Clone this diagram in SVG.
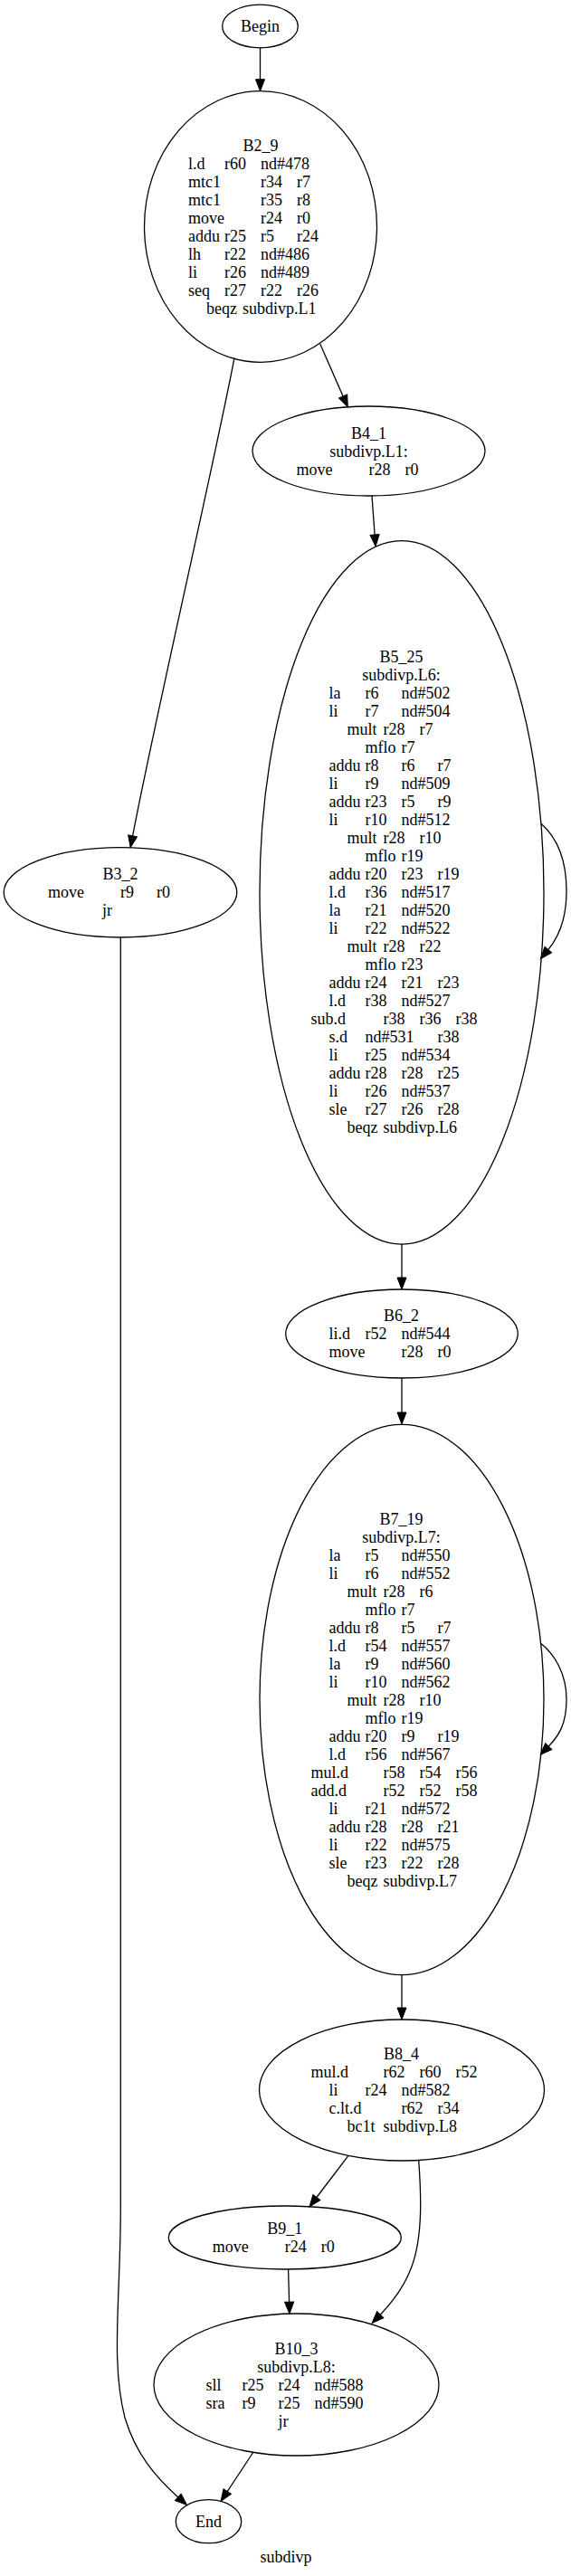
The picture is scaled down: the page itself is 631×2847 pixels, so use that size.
<svg xmlns="http://www.w3.org/2000/svg" width="631" height="2847" viewBox="0 0 631 2847">
<style>
.node ellipse{fill:none;stroke:#000;stroke-width:1.3}
text{font-family:"Liberation Serif","Times New Roman",serif;font-size:18px;fill:#000}
.m{text-anchor:middle}
.edges path{fill:none;stroke:#000;stroke-width:1.3;marker-end:url(#ah)}
</style>
<defs>
<marker id="ah" markerUnits="userSpaceOnUse" markerWidth="13" markerHeight="10" refX="0" refY="5" orient="auto" viewBox="0 0 13 10" style="overflow:visible">
<path d="M0,0 L13,5 L0,10 z" fill="#000" stroke="#000" stroke-width="1"/>
</marker>
</defs>
<rect width="631" height="2847" fill="#fff"/>
<g class="edges" id="edges">
<path d="M287.5,52.8 L287.5,87.7"/>
<path d="M353.7,380 L379.1,437.9"/>
<path d="M259,395.7 C235,520 170,800 146.6,923.9"/>
<path d="M411,548 L414.1,591"/>
<path d="M597.7,910 C615,925 626,950 626,985 C626,1015 618,1035 605.8,1049.6"/>
<path d="M444,1375.1 L444,1412"/>
<path d="M444,1523 L444,1561"/>
<path d="M597,1815.7 C613,1828 626,1850 626,1878 C626,1905 618,1918 606.3,1930"/>
<path d="M444,2182.7 L444,2219"/>
<path d="M385,2382.3 L349.9,2428.5"/>
<path d="M462.7,2387.5 C465,2420 468,2470 455,2505 C447,2527 433,2545 420.2,2558.2"/>
<path d="M318.6,2508 L319.6,2544.2"/>
<path d="M280,2710 L251.2,2753.6"/>
<path d="M133.3,1036 L133.3,2440 C133.3,2540 122,2610 138,2672 C150,2712 172,2738 196.8,2759.9"/>
</g>
<g class="node" id="Begin">
<ellipse cx="287.5" cy="29" rx="41.8" ry="23.8"/>
<text class="m" x="287.5" y="34.5">Begin</text>
</g>
<g class="node" id="B2_9">
<ellipse cx="288" cy="250.5" rx="128.5" ry="149.8"/>
<text class="m" x="288" y="166.5">B2_9</text>
<text y="186.5"><tspan x="208">l.d</tspan><tspan x="248">r60</tspan><tspan x="288">nd#478</tspan></text>
<text y="206.5"><tspan x="208">mtc1</tspan><tspan x="288">r34</tspan><tspan x="328">r7</tspan></text>
<text y="226.5"><tspan x="208">mtc1</tspan><tspan x="288">r35</tspan><tspan x="328">r8</tspan></text>
<text y="246.5"><tspan x="208">move</tspan><tspan x="288">r24</tspan><tspan x="328">r0</tspan></text>
<text y="266.5"><tspan x="208">addu</tspan><tspan x="248">r25</tspan><tspan x="288">r5</tspan><tspan x="328">r24</tspan></text>
<text y="286.5"><tspan x="208">lh</tspan><tspan x="248">r22</tspan><tspan x="288">nd#486</tspan></text>
<text y="306.5"><tspan x="208">li</tspan><tspan x="248">r26</tspan><tspan x="288">nd#489</tspan></text>
<text y="326.5"><tspan x="208">seq</tspan><tspan x="248">r27</tspan><tspan x="288">r22</tspan><tspan x="328">r26</tspan></text>
<text y="346.5"><tspan x="228">beqz</tspan><tspan x="268">subdivp.L1</tspan></text>
</g>
<g class="node" id="B4_1">
<ellipse cx="407.5" cy="498.5" rx="128.5" ry="49.5"/>
<text class="m" x="407.5" y="484.5">B4_1</text>
<text class="m" x="407.5" y="504.5">subdivp.L1:</text>
<text y="524.5"><tspan x="327.5">move</tspan><tspan x="407.5">r28</tspan><tspan x="447.5">r0</tspan></text>
</g>
<g class="node" id="B3_2">
<ellipse cx="133" cy="986.3" rx="128.8" ry="49.7"/>
<text class="m" x="133" y="972.3">B3_2</text>
<text y="992.3"><tspan x="53">move</tspan><tspan x="133">r9</tspan><tspan x="173">r0</tspan></text>
<text y="1012.3"><tspan x="113">jr</tspan></text>
</g>
<g class="node" id="B5_25">
<ellipse cx="444" cy="986.4" rx="157" ry="388.7"/>
<text class="m" x="443.5" y="732.4">B5_25</text>
<text class="m" x="443.5" y="752.4">subdivp.L6:</text>
<text y="772.4"><tspan x="363.5">la</tspan><tspan x="403.5">r6</tspan><tspan x="443.5">nd#502</tspan></text>
<text y="792.4"><tspan x="363.5">li</tspan><tspan x="403.5">r7</tspan><tspan x="443.5">nd#504</tspan></text>
<text y="812.4"><tspan x="383.5">mult</tspan><tspan x="423.5">r28</tspan><tspan x="463.5">r7</tspan></text>
<text y="832.4"><tspan x="403.5">mflo</tspan><tspan x="443.5">r7</tspan></text>
<text y="852.4"><tspan x="363.5">addu</tspan><tspan x="403.5">r8</tspan><tspan x="443.5">r6</tspan><tspan x="483.5">r7</tspan></text>
<text y="872.4"><tspan x="363.5">li</tspan><tspan x="403.5">r9</tspan><tspan x="443.5">nd#509</tspan></text>
<text y="892.4"><tspan x="363.5">addu</tspan><tspan x="403.5">r23</tspan><tspan x="443.5">r5</tspan><tspan x="483.5">r9</tspan></text>
<text y="912.4"><tspan x="363.5">li</tspan><tspan x="403.5">r10</tspan><tspan x="443.5">nd#512</tspan></text>
<text y="932.4"><tspan x="383.5">mult</tspan><tspan x="423.5">r28</tspan><tspan x="463.5">r10</tspan></text>
<text y="952.4"><tspan x="403.5">mflo</tspan><tspan x="443.5">r19</tspan></text>
<text y="972.4"><tspan x="363.5">addu</tspan><tspan x="403.5">r20</tspan><tspan x="443.5">r23</tspan><tspan x="483.5">r19</tspan></text>
<text y="992.4"><tspan x="363.5">l.d</tspan><tspan x="403.5">r36</tspan><tspan x="443.5">nd#517</tspan></text>
<text y="1012.4"><tspan x="363.5">la</tspan><tspan x="403.5">r21</tspan><tspan x="443.5">nd#520</tspan></text>
<text y="1032.4"><tspan x="363.5">li</tspan><tspan x="403.5">r22</tspan><tspan x="443.5">nd#522</tspan></text>
<text y="1052.4"><tspan x="383.5">mult</tspan><tspan x="423.5">r28</tspan><tspan x="463.5">r22</tspan></text>
<text y="1072.4"><tspan x="403.5">mflo</tspan><tspan x="443.5">r23</tspan></text>
<text y="1092.4"><tspan x="363.5">addu</tspan><tspan x="403.5">r24</tspan><tspan x="443.5">r21</tspan><tspan x="483.5">r23</tspan></text>
<text y="1112.4"><tspan x="363.5">l.d</tspan><tspan x="403.5">r38</tspan><tspan x="443.5">nd#527</tspan></text>
<text y="1132.4"><tspan x="343.5">sub.d</tspan><tspan x="423.5">r38</tspan><tspan x="463.5">r36</tspan><tspan x="503.5">r38</tspan></text>
<text y="1152.4"><tspan x="363.5">s.d</tspan><tspan x="403.5">nd#531</tspan><tspan x="483.5">r38</tspan></text>
<text y="1172.4"><tspan x="363.5">li</tspan><tspan x="403.5">r25</tspan><tspan x="443.5">nd#534</tspan></text>
<text y="1192.4"><tspan x="363.5">addu</tspan><tspan x="403.5">r28</tspan><tspan x="443.5">r28</tspan><tspan x="483.5">r25</tspan></text>
<text y="1212.4"><tspan x="363.5">li</tspan><tspan x="403.5">r26</tspan><tspan x="443.5">nd#537</tspan></text>
<text y="1232.4"><tspan x="363.5">sle</tspan><tspan x="403.5">r27</tspan><tspan x="443.5">r26</tspan><tspan x="483.5">r28</tspan></text>
<text y="1252.4"><tspan x="383.5">beqz</tspan><tspan x="423.5">subdivp.L6</tspan></text>
</g>
<g class="node" id="B6_2">
<ellipse cx="444" cy="1474" rx="128.3" ry="49"/>
<text class="m" x="443.5" y="1460">B6_2</text>
<text y="1480"><tspan x="363.5">li.d</tspan><tspan x="403.5">r52</tspan><tspan x="443.5">nd#544</tspan></text>
<text y="1500"><tspan x="363.5">move</tspan><tspan x="443.5">r28</tspan><tspan x="483.5">r0</tspan></text>
</g>
<g class="node" id="B7_19">
<ellipse cx="444" cy="1878.5" rx="157" ry="304.2"/>
<text class="m" x="443.5" y="1684.5">B7_19</text>
<text class="m" x="443.5" y="1704.5">subdivp.L7:</text>
<text y="1724.5"><tspan x="363.5">la</tspan><tspan x="403.5">r5</tspan><tspan x="443.5">nd#550</tspan></text>
<text y="1744.5"><tspan x="363.5">li</tspan><tspan x="403.5">r6</tspan><tspan x="443.5">nd#552</tspan></text>
<text y="1764.5"><tspan x="383.5">mult</tspan><tspan x="423.5">r28</tspan><tspan x="463.5">r6</tspan></text>
<text y="1784.5"><tspan x="403.5">mflo</tspan><tspan x="443.5">r7</tspan></text>
<text y="1804.5"><tspan x="363.5">addu</tspan><tspan x="403.5">r8</tspan><tspan x="443.5">r5</tspan><tspan x="483.5">r7</tspan></text>
<text y="1824.5"><tspan x="363.5">l.d</tspan><tspan x="403.5">r54</tspan><tspan x="443.5">nd#557</tspan></text>
<text y="1844.5"><tspan x="363.5">la</tspan><tspan x="403.5">r9</tspan><tspan x="443.5">nd#560</tspan></text>
<text y="1864.5"><tspan x="363.5">li</tspan><tspan x="403.5">r10</tspan><tspan x="443.5">nd#562</tspan></text>
<text y="1884.5"><tspan x="383.5">mult</tspan><tspan x="423.5">r28</tspan><tspan x="463.5">r10</tspan></text>
<text y="1904.5"><tspan x="403.5">mflo</tspan><tspan x="443.5">r19</tspan></text>
<text y="1924.5"><tspan x="363.5">addu</tspan><tspan x="403.5">r20</tspan><tspan x="443.5">r9</tspan><tspan x="483.5">r19</tspan></text>
<text y="1944.5"><tspan x="363.5">l.d</tspan><tspan x="403.5">r56</tspan><tspan x="443.5">nd#567</tspan></text>
<text y="1964.5"><tspan x="343.5">mul.d</tspan><tspan x="423.5">r58</tspan><tspan x="463.5">r54</tspan><tspan x="503.5">r56</tspan></text>
<text y="1984.5"><tspan x="343.5">add.d</tspan><tspan x="423.5">r52</tspan><tspan x="463.5">r52</tspan><tspan x="503.5">r58</tspan></text>
<text y="2004.5"><tspan x="363.5">li</tspan><tspan x="403.5">r21</tspan><tspan x="443.5">nd#572</tspan></text>
<text y="2024.5"><tspan x="363.5">addu</tspan><tspan x="403.5">r28</tspan><tspan x="443.5">r28</tspan><tspan x="483.5">r21</tspan></text>
<text y="2044.5"><tspan x="363.5">li</tspan><tspan x="403.5">r22</tspan><tspan x="443.5">nd#575</tspan></text>
<text y="2064.5"><tspan x="363.5">sle</tspan><tspan x="403.5">r23</tspan><tspan x="443.5">r22</tspan><tspan x="483.5">r28</tspan></text>
<text y="2084.5"><tspan x="383.5">beqz</tspan><tspan x="423.5">subdivp.L7</tspan></text>
</g>
<g class="node" id="B8_4">
<ellipse cx="444" cy="2310" rx="157.5" ry="78"/>
<text class="m" x="443.5" y="2276">B8_4</text>
<text y="2296"><tspan x="343.5">mul.d</tspan><tspan x="423.5">r62</tspan><tspan x="463.5">r60</tspan><tspan x="503.5">r52</tspan></text>
<text y="2316"><tspan x="363.5">li</tspan><tspan x="403.5">r24</tspan><tspan x="443.5">nd#582</tspan></text>
<text y="2336"><tspan x="363.5">c.lt.d</tspan><tspan x="443.5">r62</tspan><tspan x="483.5">r34</tspan></text>
<text y="2356"><tspan x="383.5">bc1t</tspan><tspan x="423.5">subdivp.L8</tspan></text>
</g>
<g class="node" id="B9_1">
<ellipse cx="314.8" cy="2473" rx="128.5" ry="35"/>
<text class="m" x="314.8" y="2469">B9_1</text>
<text y="2489"><tspan x="234.8">move</tspan><tspan x="314.8">r24</tspan><tspan x="354.8">r0</tspan></text>
</g>
<g class="node" id="B10_3">
<ellipse cx="327.5" cy="2635.5" rx="157.5" ry="78.5"/>
<text class="m" x="327.5" y="2601.5">B10_3</text>
<text class="m" x="327.5" y="2621.5">subdivp.L8:</text>
<text y="2641.5"><tspan x="227.5">sll</tspan><tspan x="267.5">r25</tspan><tspan x="307.5">r24</tspan><tspan x="347.5">nd#588</tspan></text>
<text y="2661.5"><tspan x="227.5">sra</tspan><tspan x="267.5">r9</tspan><tspan x="307.5">r25</tspan><tspan x="347.5">nd#590</tspan></text>
<text y="2681.5"><tspan x="307.5">jr</tspan></text>
</g>
<g class="node" id="End">
<ellipse cx="230.5" cy="2786.7" rx="36.2" ry="24"/>
<text class="m" x="230.5" y="2792.7">End</text>
</g>
<text class="m" x="316" y="2832">subdivp</text>
</svg>
